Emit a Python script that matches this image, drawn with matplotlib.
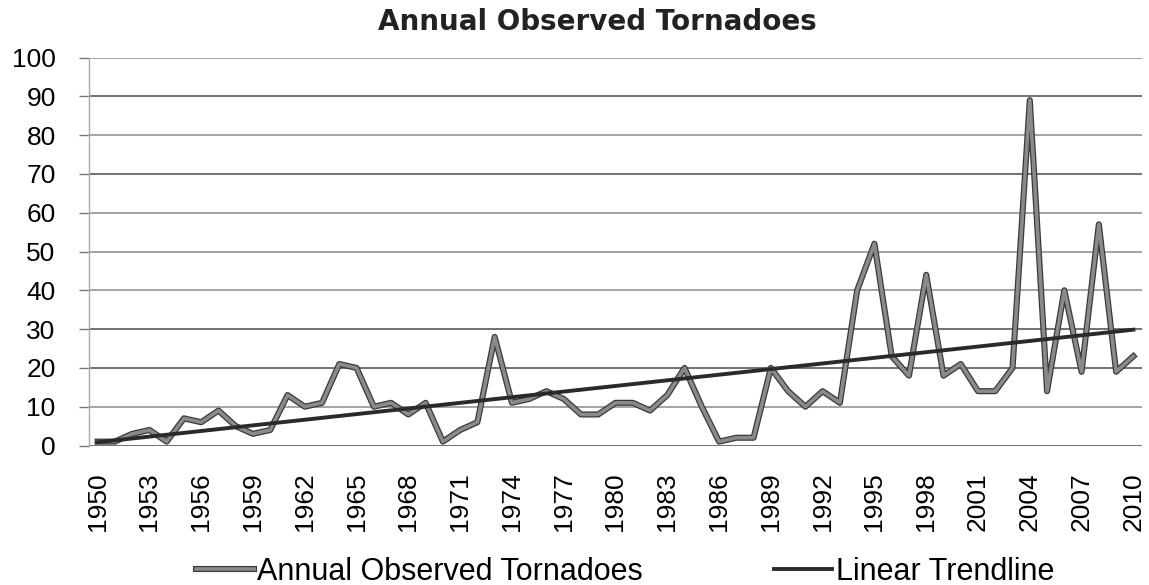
import matplotlib
matplotlib.use("Agg")
import matplotlib.pyplot as plt
import matplotlib.patheffects as pe
import numpy as np

years = list(range(1950, 2011))
tornadoes = [1, 1, 3, 4, 1, 7, 6, 9, 5, 3,
             4, 13, 10, 11, 21, 20, 10, 11, 8, 11,
             1, 4, 6, 28, 11, 12, 14, 12, 8, 8,
             11, 11, 9, 13, 20, 10, 1, 2, 2, 20,
             14, 10, 14, 11, 40, 52, 23, 18, 44, 18,
             21, 14, 14, 20, 89, 14, 40, 19, 57, 19,
             23]
tick_years = list(range(1950, 2011, 3))
y_ticks = list(range(0, 101, 10))

title = "Annual Observed Tornadoes"
series_label = "Annual Observed Tornadoes"
trend_label = "Linear Trendline"

plt.rcParams['font.family'] = ['Liberation Sans', 'DejaVu Sans']

fig = plt.figure(figsize=(11.49, 5.85), dpi=100)
ax = fig.add_axes([89/1149, 1-445.5/585, (1142-89)/1149, (445.5-57.5)/585])

x = np.array(years, dtype=float)
y = np.array(tornadoes, dtype=float)
coef = np.polyfit(x, y, 1)
trend = np.polyval(coef, x)

line1, = ax.plot(x, y, color='#8a8a8a', lw=2.6, solid_joinstyle='round', zorder=3,
                 label=series_label,
                 path_effects=[pe.Stroke(linewidth=4.4, foreground='#3a3a3a', joinstyle='round'),
                               pe.Normal()])
line2, = ax.plot(x, trend, color='#2a2a2a', lw=2.8, zorder=4, label=trend_label)

ax.set_xlim(1949.5, 2010.5)
ax.set_ylim(0, 100)
ax.set_yticks(y_ticks)
ax.set_xticks(tick_years)
ax.set_xticklabels([str(t) for t in tick_years], rotation=90)
ax.tick_params(axis='y', length=7, width=1, color='#777777', pad=17, labelsize=19)
ax.tick_params(axis='x', length=0, pad=19, labelsize=19)

for v in y_ticks:
    ax.axhline(v, color='#4a4a4a' if v in (0, 20, 30, 70, 90) else '#8a8a8a',
               lw=1.1, zorder=1)

for s in ['top', 'right', 'bottom']:
    ax.spines[s].set_visible(False)
ax.spines['left'].set_color('#aaaaaa')
ax.spines['left'].set_linestyle((0, (2, 1)))
ax.spines['left'].set_linewidth(1)

fig.text(0.52, 1-22/585, title, ha='center', va='center', fontsize=20,
         fontweight='bold', family=['DejaVu Sans'], color='#222222')

leg = fig.legend(handles=[line1, line2], loc='center', bbox_to_anchor=(0.544, 1-572/585),
                 ncol=2, frameon=False, fontsize=22, handlelength=1.9,
                 handletextpad=0.1, columnspacing=4.3)

fig.savefig("out.png", dpi=100, facecolor='white')
